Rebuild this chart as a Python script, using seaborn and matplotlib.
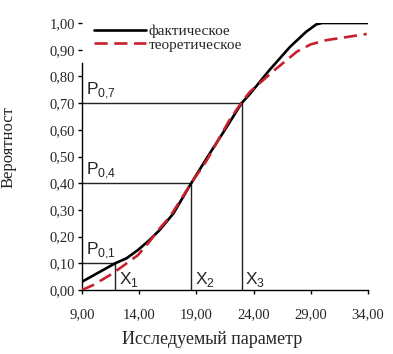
import seaborn as sns
import matplotlib.pyplot as plt
import matplotlib.ticker as mticker
import pandas as pd

# фактическое
x_fact = [9.0, 10.6, 11.9, 12.9, 13.9, 14.9, 15.8, 17.0, 18.55, 20.0, 21.5, 22.96,
          23.7, 25.4, 27.2, 28.6, 29.5, 30.0, 34.0]
p_fact = [0.031, 0.069, 0.10, 0.119, 0.150, 0.187, 0.225, 0.287, 0.40, 0.50, 0.60, 0.70,
          0.735, 0.824, 0.911, 0.967, 0.995, 1.0, 1.0]

# теоретическое
x_theor = [9.0, 10.0, 11.45, 12.3, 13.9, 14.9, 15.8, 16.7, 18.4, 19.9, 21.9, 23.0,
           23.7, 25.85, 27.8, 29.0, 30.4, 32.4, 33.9]
p_theor = [0.0, 0.019, 0.056, 0.081, 0.131, 0.181, 0.231, 0.275, 0.39, 0.485, 0.637, 0.705,
           0.743, 0.824, 0.893, 0.92, 0.936, 0.949, 0.959]

p_levels = [0.1, 0.4, 0.7]
x_levels = [11.9, 18.55, 22.96]
p_names = ["0{,}1", "0{,}4", "0{,}7"]
x_names = ["1", "2", "3"]

df = pd.concat([
    pd.DataFrame({"x": x_fact, "p": p_fact, "kind": "фактическое"}),
    pd.DataFrame({"x": x_theor, "p": p_theor, "kind": "теоретическое"}),
])

sns.set_theme(style="white")
plt.rcParams["font.family"] = ["Liberation Serif", "DejaVu Serif"]
plt.rcParams["mathtext.fontset"] = "custom"
plt.rcParams["mathtext.rm"] = "Liberation Sans"

fig = plt.figure(figsize=(3.93, 3.54), dpi=100)
ax = fig.add_axes([0.2087, 0.1808, 0.7273, 0.7542])

sns.lineplot(data=df, x="x", y="p", hue="kind", style="kind",
             palette={"фактическое": "black", "теоретическое": "#c8202c"},
             dashes={"фактическое": "", "теоретическое": (5, 2.5)},
             linewidth=1.9, ax=ax, zorder=3)

for p, xv, pn, xn in zip(p_levels, x_levels, p_names, x_names):
    ax.plot([9, xv], [p, p], color="#222222", lw=1.0, zorder=2)
    ax.plot([xv, xv], [0, p], color="#222222", lw=1.0, zorder=2)
    ax.text(9.35, p + 0.008, "P$_{\\mathregular{" + pn + "}}$", family="Liberation Sans",
            fontsize=12.5, va="bottom", ha="left")
    ax.text(xv + 0.3, 0.004, "X$_{\\mathregular{" + xn + "}}$", family="Liberation Sans",
            fontsize=12.5, va="bottom", ha="left")

ax.set_xlim(9, 34)
ax.set_ylim(0, 1)
ax.set_xticks([9, 14, 19, 24, 29, 34])
ax.set_yticks([i / 10 for i in range(11)])
fmt = mticker.FuncFormatter(lambda v, pos: f"{v:.2f}".replace(".", ","))
ax.xaxis.set_major_formatter(fmt)
ax.yaxis.set_major_formatter(fmt)
ax.tick_params(axis="both", which="major", direction="out", length=3, width=1,
               color="black", labelsize=10.5, pad=2, bottom=True, left=True)
ax.tick_params(axis="x", pad=10)

for s in ["top", "right"]:
    ax.spines[s].set_visible(False)
for s in ["left", "bottom"]:
    ax.spines[s].set_color("black")
    ax.spines[s].set_linewidth(1.0)
ax.spines["left"].set_bounds(0, 0.85)

ax.set_xlabel("Исследуемый параметр", fontsize=13, labelpad=5)
ax.xaxis.set_label_coords(0.456, -0.155)
ax.set_ylabel("Вероятност", fontsize=12)
ax.yaxis.set_label_coords(-0.228, 0.535)

ax.legend(loc="upper left", bbox_to_anchor=(0.005, 1.035), frameon=False, fontsize=11,
          handlelength=3.4, handletextpad=0.15, borderpad=0.2, labelspacing=0.0, title=None)

plt.savefig("out.png", dpi=100)
